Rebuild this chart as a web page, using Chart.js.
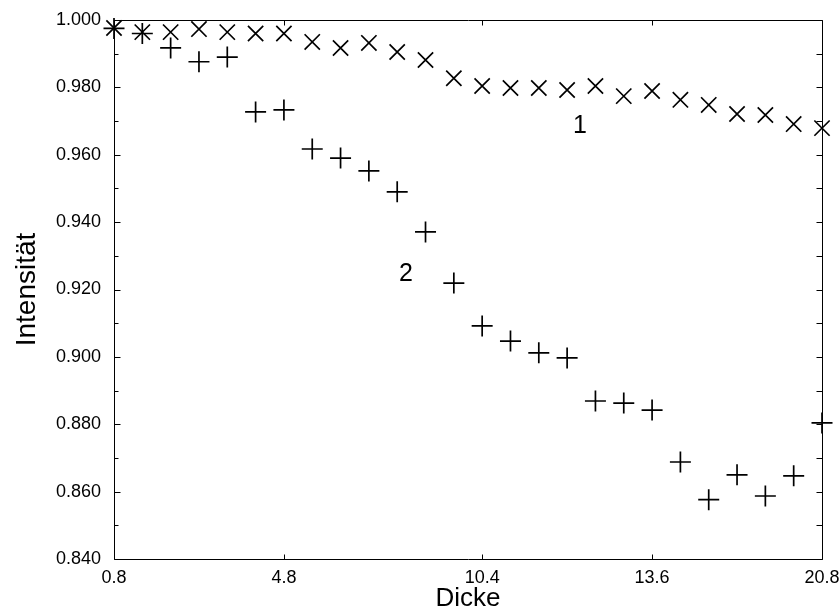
<!DOCTYPE html>
<html><head><meta charset="utf-8">
<script src="https://cdn.jsdelivr.net/npm/chart.js@4.4.1/dist/chart.umd.min.js"></script>
<style>html,body{margin:0;padding:0;background:#fff}</style>
</head><body>
<canvas id="c" width="840" height="610"></canvas>
<script>
// point index along the thickness axis (26 measurements)
const pointIndex = [0,1,2,3,4,5,6,7,8,9,10,11,12,13,14,15,16,17,18,19,20,21,22,23,24,25];
// series 1 (x markers)
const series1 = [0.9976,0.9964,0.9964,0.9973,0.9964,0.9960,0.9960,0.9935,0.9917,0.9932,0.9905,0.9881,0.9827,
                 0.9804,0.9798,0.9798,0.9792,0.9804,0.9774,0.9789,0.9763,0.9748,0.9721,0.9718,0.9691,0.9679];
// series 2 (+ markers)
const series2 = [0.9975,0.9960,0.9917,0.9876,0.9890,0.9727,0.9733,0.9617,0.9590,0.9552,0.9490,0.9371,0.9219,
                 0.9092,0.9047,0.9012,0.8997,0.8869,0.8863,0.8842,0.8688,0.8576,0.8650,0.8587,0.8647,0.8804];
// x tick positions (indices) and their labels
const xTickPositions = [0, 6, 13, 19, 25];
const xTickLabels = ['0.8', '4.8', '10.4', '13.6', '20.8'];
// y axis
const yMin = 0.84, yMax = 1.0, yStep = 0.02, yMinorStep = 0.01;
// curve labels
const curveLabels = ['1', '2'];
const curveLabelX = [16.45, 10.31];
const curveLabelY = [0.9685, 0.9246];

const FONT = "'Liberation Sans', Arial, Helvetica, sans-serif";

const framePlugin = {
  id: 'frame',
  afterDatasetsDraw(chart) {
    const {ctx, chartArea: a, scales: {x, y}} = chart;
    ctx.save();
    ctx.strokeStyle = '#000';
    ctx.lineWidth = 1;
    const L = Math.round(a.left) + 0.5, R = Math.round(a.right) + 0.5;
    const T = Math.round(a.top) + 0.5, B = Math.round(a.bottom) + 0.5;
    ctx.beginPath();
    ctx.rect(L, T, R - L, B - T);
    const n = Math.round((yMax - yMin) / yMinorStep);
    for (let i = 0; i <= n; i++) {
      const v = yMin + i * yMinorStep;
      const py = Math.round(y.getPixelForValue(v)) + 0.5;
      const major = i % 2 === 0;
      const lenL = major ? 6 : 4;
      ctx.moveTo(L, py); ctx.lineTo(L + lenL, py);
      ctx.moveTo(R, py); ctx.lineTo(R - 6, py);
    }
    xTickPositions.forEach(p => {
      const px = Math.round(x.getPixelForValue(p)) + 0.5;
      ctx.moveTo(px, B); ctx.lineTo(px, B - 5);
      ctx.moveTo(px, T); ctx.lineTo(px, T + 5);
    });
    ctx.stroke();
    ctx.fillStyle = '#000';
    ctx.font = '25px ' + FONT;
    ctx.textAlign = 'center';
    ctx.textBaseline = 'middle';
    curveLabels.forEach((t, i) => {
      ctx.fillText(t, x.getPixelForValue(curveLabelX[i]), y.getPixelForValue(curveLabelY[i]));
    });
    ctx.restore();
  }
};

new Chart(document.getElementById('c'), {
  type: 'scatter',
  data: {
    datasets: [
      {
        label: '1',
        data: pointIndex.map((k, i) => ({x: k, y: series1[i]})),
        pointStyle: 'crossRot', pointRadius: 10.8, borderColor: '#000', borderWidth: 1.7,
        backgroundColor: '#000', clip: false
      },
      {
        label: '2',
        data: pointIndex.map((k, i) => ({x: k, y: series2[i]})),
        pointStyle: 'cross', pointRadius: 10.5, borderColor: '#000', borderWidth: 1.7,
        backgroundColor: '#000', clip: false
      }
    ]
  },
  options: {
    responsive: false,
    animation: false,
    devicePixelRatio: 1,
    layout: {padding: {top: 20, right: 18, left: 0, bottom: 0}},
    plugins: {legend: {display: false}, tooltip: {enabled: false}},
    scales: {
      x: {
        type: 'linear',
        min: pointIndex[0], max: pointIndex[pointIndex.length - 1],
        grid: {display: false, drawTicks: false},
        border: {display: false},
        afterBuildTicks: s => { s.ticks = xTickPositions.map(v => ({value: v})); },
        ticks: {
          autoSkip: false, maxRotation: 0, padding: 8, color: '#000',
          font: {family: FONT, size: 18},
          callback: (v) => xTickLabels[xTickPositions.indexOf(v)]
        },
        title: {display: true, text: 'Dicke', color: '#000', font: {family: FONT, size: 26, lineHeight: 1}, padding: {top: 0, bottom: -2}},
        afterFit: s => { s.height = 51; s.paddingLeft = 0; s.paddingRight = 0; }
      },
      y: {
        type: 'linear', min: yMin, max: yMax,
        grid: {display: false, drawTicks: false},
        border: {display: false},
        ticks: {
          stepSize: yStep, padding: 13, color: '#000',
          font: {family: FONT, size: 18},
          callback: v => Number(v).toFixed(3)
        },
        title: {display: true, text: 'Intensität', color: '#000', font: {family: FONT, size: 28, lineHeight: 1}, padding: {top: 13, bottom: 0}},
        afterFit: s => { s.width = 114; s.paddingTop = 0; s.paddingBottom = 0; }
      }
    }
  },
  plugins: [framePlugin]
});
</script>
</body></html>
